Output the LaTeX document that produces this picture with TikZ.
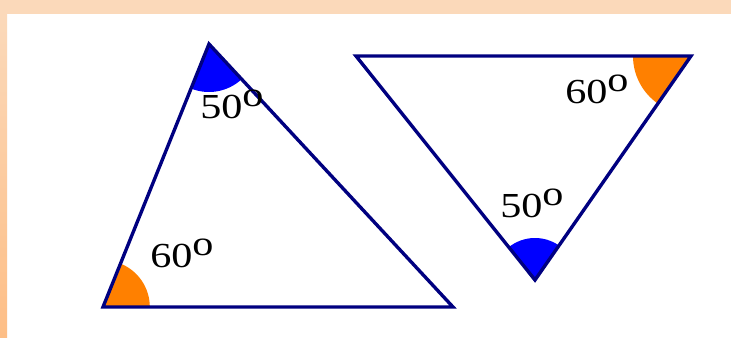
\documentclass[tikz,border=0pt]{standalone}
\usepackage{fontspec}
\setmainfont{Liberation Serif}
\usepackage{tikz}
\usetikzlibrary{angles,calc}
\definecolor{edgecol}{RGB}{0,0,128}
\definecolor{bluecol}{RGB}{0,0,255}
\definecolor{orangecol}{RGB}{255,128,0}
\definecolor{framecol}{RGB}{251,217,186}
\definecolor{framedark}{RGB}{253,190,134}
% degree value with a raised letter o, set wide
\newcommand{\degval}[1]{\scalebox{1.2}[1]{#1\raisebox{0.34em}{o}}}
\tikzset{
  % triangle outline
  triedge/.style={draw=edgecol, line width=2.4pt, line join=miter},
  % filled angle wedge
  wedge/.style 2 args={draw=none, fill=#1, angle radius=#2},
  % angle label
  anglabel/.style={font=\fontsize{25}{25}\selectfont, inner sep=0pt, anchor=base west},
}

\begin{document}
\begin{tikzpicture}[x=0.025cm, y=0.025cm]
  % background and frame
  \useasboundingbox (0,0) rectangle (731,337);
  \fill[white] (0,0) rectangle (731,337);
  \fill[framecol] (0,323) rectangle (731,337);
  \shade[top color=framecol, bottom color=framedark] (0,0) rectangle (7,323);

  % left triangle
  \coordinate (A) at (209,293);
  \coordinate (B) at (103,30);
  \coordinate (C) at (453,30);
  % right triangle
  \coordinate (D) at (356,281);
  \coordinate (E) at (691,281);
  \coordinate (F) at (535,57);

  % angle wedges
  \pic[wedge={bluecol}{1.2cm}] {angle = B--A--C};
  \pic[wedge={orangecol}{1.17cm}] {angle = C--B--A};
  \pic[wedge={orangecol}{1.45cm}] {angle = D--E--F};
  \pic[wedge={bluecol}{1.05cm}] {angle = E--F--D};

  \draw[triedge] (A) -- (B) -- (C) -- cycle;
  \draw[triedge] (D) -- (E) -- (F) -- cycle;

  % labels
  \node[anglabel] (la) at (200,219) {\degval{50}};
  \node[anglabel] (lb) at (150,70) {\degval{60}};
  \node[anglabel] (le) at (565,234) {\degval{60}};
  \node[anglabel] (lf) at (500,120) {\degval{50}};
\end{tikzpicture}
\end{document}
